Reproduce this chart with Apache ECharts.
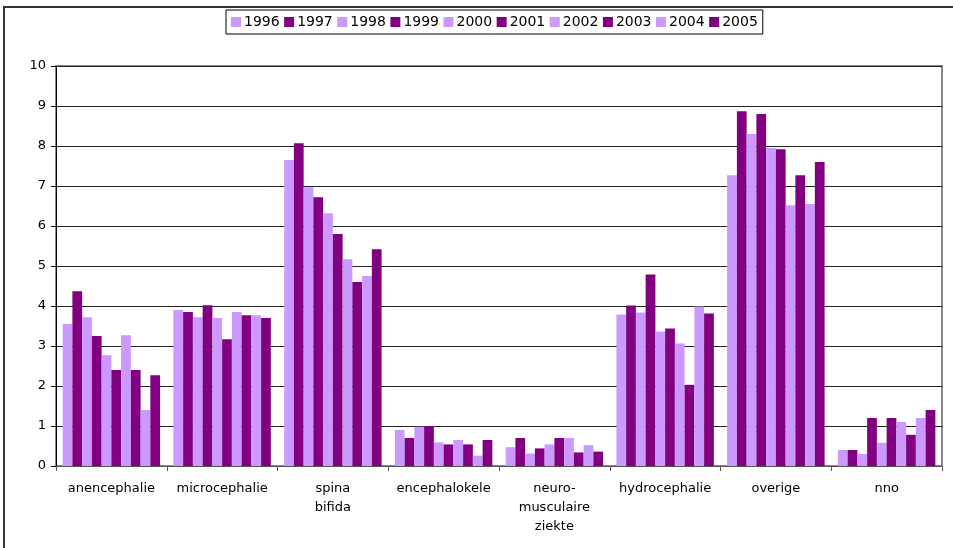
<!DOCTYPE html>
<html>
<head>
<meta charset="utf-8">
<script src="https://cdn.jsdelivr.net/npm/echarts@6/dist/echarts.min.js"></script>
<style>
  html, body { margin: 0; padding: 0; background: #fff; }
  #chart { width: 953px; height: 548px; }
</style>
</head>
<body>
<div id="chart"></div>
<script>
var categories = ['anencephalie', 'microcephalie', 'spina\nbifida', 'encephalokele',
  'neuro-\nmusculaire\nziekte', 'hydrocephalie', 'overige', 'nno'];
var years = ['1996', '1997', '1998', '1999', '2000', '2001', '2002', '2003', '2004', '2005'];

// one array per year, values in category order
var v1996 = [3.55, 3.9, 7.65, 0.9, 0.47, 3.79, 7.27, 0.4];
var v1997 = [4.37, 3.85, 8.07, 0.7, 0.7, 4.01, 8.87, 0.4];
var v1998 = [3.72, 3.72, 6.97, 0.98, 0.31, 3.84, 8.3, 0.3];
var v1999 = [3.25, 4.02, 6.72, 1.0, 0.44, 4.79, 8.8, 1.2];
var v2000 = [2.77, 3.7, 6.32, 0.59, 0.54, 3.36, 7.95, 0.58];
var v2001 = [2.4, 3.17, 5.8, 0.54, 0.7, 3.44, 7.92, 1.2];
var v2002 = [3.27, 3.85, 5.17, 0.65, 0.7, 3.06, 6.52, 1.1];
var v2003 = [2.4, 3.77, 4.6, 0.54, 0.34, 2.03, 7.27, 0.78];
var v2004 = [1.4, 3.77, 4.75, 0.26, 0.52, 3.99, 6.55, 1.2];
var v2005 = [2.27, 3.7, 5.42, 0.65, 0.36, 3.81, 7.6, 1.4];
var values = [v1996, v1997, v1998, v1999, v2000, v2001, v2002, v2003, v2004, v2005];

var yTicks = [0, 10, 1]; // min, max, interval

var light = '#CC99FF', dark = '#800080';
var fontFam = 'DejaVu Sans, Verdana, sans-serif';

var series = years.map(function (y, i) {
  return {
    name: y,
    type: 'bar',
    data: values[i],
    barGap: '0%',
    barCategoryGap: '12%',
    itemStyle: { color: i % 2 === 0 ? light : dark },
    animation: false
  };
});

var myChart = echarts.init(document.getElementById('chart'));
myChart.setOption({
  animation: false,
  textStyle: { fontFamily: fontFam },
  graphic: [
    { type: 'rect', shape: { x: 4, y: 7, width: 1000, height: 600 },
      style: { fill: 'none', stroke: '#333', lineWidth: 2 }, silent: true },
    { type: 'rect', shape: { x: 56, y: 66, width: 886, height: 400 },
      style: { fill: 'none', stroke: '#888', lineWidth: 2 }, silent: true, z: -1 }
  ],
  legend: {
    top: 10,
    left: 226,
    data: years,
    itemWidth: 10,
    itemHeight: 10,
    itemGap: 4.5,
    padding: [5, 5, 5, 5],
    borderColor: '#000',
    borderWidth: 1,
    textStyle: { fontSize: 14, color: '#000', fontFamily: fontFam, padding: [0, 0, 0, -2] },
    icon: 'rect'
  },
  grid: { left: 56, right: 11, top: 66, bottom: 82, containLabel: false },
  xAxis: {
    type: 'category',
    data: categories,
    axisLine: { lineStyle: { color: '#555', width: 1 } },
    axisTick: { show: true, length: 5, lineStyle: { color: '#555' } },
    axisLabel: { color: '#000', fontSize: 13, margin: 13, lineHeight: 19, fontFamily: fontFam, interval: 0 },
    splitLine: { show: false }
  },
  yAxis: {
    type: 'value',
    min: yTicks[0],
    max: yTicks[1],
    interval: yTicks[2],
    axisLine: { show: true, lineStyle: { color: '#000' } },
    axisTick: { show: true, length: 5, lineStyle: { color: '#000' } },
    axisLabel: { color: '#000', fontSize: 13, margin: 10, fontFamily: fontFam },
    splitLine: { show: true, lineStyle: { color: '#222', width: 1 } }
  },
  series: series
});
</script>
</body>
</html>
